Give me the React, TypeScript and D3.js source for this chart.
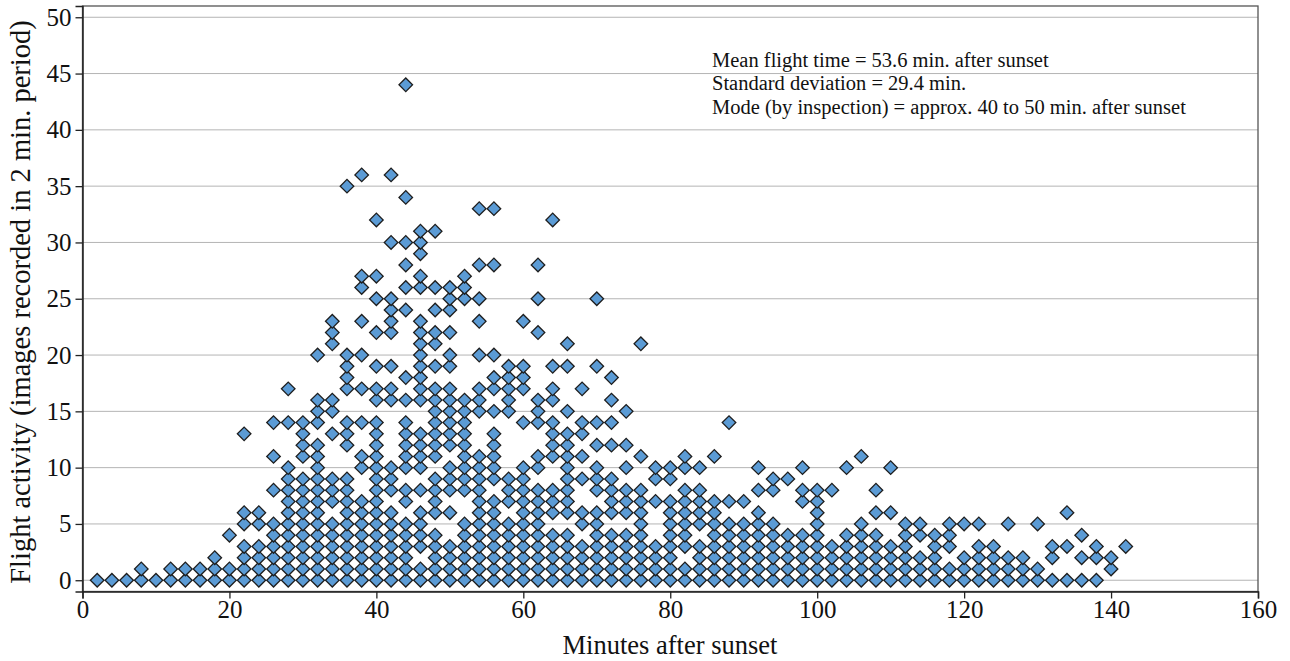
import React, { useRef, useEffect } from 'react';
import * as d3 from 'd3';

// minutes after sunset (2 min. periods)
const minutes = [
  2, 4, 6, 8, 10, 12, 14, 16, 18, 20, 22, 24, 26, 28, 30, 32, 34, 36, 38, 40, 42, 44, 46, 48,
  50, 52, 54, 56, 58, 60, 62, 64, 66, 68, 70, 72, 74, 76, 78, 80, 82, 84, 86, 88, 90, 92, 94,
  96, 98, 100, 102, 104, 106, 108, 110, 112, 114, 116, 118, 120, 122, 124, 126, 128, 130, 132,
  134, 136, 138, 140, 142,
];

// flight activity values recorded in each 2 min. period (one list per entry of `minutes`)
const activity = [
  [0], [0], [0], [0, 1], [0], [0, 1], [0, 1], [0, 1], [0, 1, 2], [0, 1, 4],
  [0, 1, 2, 3, 5, 6, 13],
  [0, 1, 2, 3, 5, 6],
  [0, 1, 2, 3, 4, 5, 8, 11, 14],
  [0, 1, 2, 3, 4, 5, 6, 7, 8, 9, 10, 14, 17],
  [0, 1, 2, 3, 4, 5, 6, 7, 8, 9, 11, 12, 13, 14],
  [0, 1, 2, 3, 4, 5, 6, 7, 8, 9, 10, 11, 12, 14, 15, 16, 20],
  [0, 1, 2, 3, 4, 5, 7, 8, 9, 13, 15, 16, 21, 22, 23],
  [0, 1, 2, 3, 4, 5, 6, 7, 8, 9, 12, 13, 14, 17, 18, 19, 20, 35],
  [0, 1, 2, 3, 4, 5, 6, 7, 10, 11, 14, 17, 20, 23, 26, 27, 36],
  [0, 1, 2, 3, 4, 5, 6, 7, 8, 9, 10, 11, 12, 13, 14, 16, 17, 19, 22, 25, 27, 32],
  [0, 1, 2, 3, 4, 5, 6, 8, 9, 10, 16, 17, 19, 22, 23, 24, 25, 30, 36],
  [0, 1, 2, 3, 4, 5, 7, 8, 10, 11, 12, 13, 14, 16, 18, 24, 26, 28, 30, 34, 44],
  [0, 1, 3, 4, 5, 6, 8, 10, 11, 12, 13, 16, 17, 18, 19, 20, 21, 22, 23, 26, 27, 29, 30, 31],
  [0, 1, 2, 3, 4, 6, 7, 8, 9, 11, 12, 13, 14, 15, 16, 17, 19, 21, 22, 24, 26, 31],
  [0, 1, 2, 3, 6, 8, 9, 10, 12, 13, 14, 15, 16, 17, 19, 20, 22, 24, 25, 26],
  [0, 1, 2, 3, 4, 5, 8, 9, 10, 11, 12, 13, 14, 15, 16, 25, 26, 27],
  [0, 1, 2, 3, 4, 5, 6, 7, 8, 9, 10, 11, 15, 16, 17, 20, 23, 25, 28, 33],
  [0, 1, 2, 3, 4, 5, 6, 7, 9, 10, 11, 12, 13, 15, 17, 18, 20, 28, 33],
  [0, 1, 2, 3, 4, 5, 7, 8, 9, 15, 16, 17, 18, 19],
  [0, 1, 2, 3, 4, 5, 6, 7, 8, 9, 10, 14, 17, 18, 19, 23],
  [0, 1, 2, 3, 4, 5, 6, 7, 8, 10, 11, 14, 15, 16, 22, 25, 28],
  [0, 1, 2, 3, 4, 6, 7, 8, 11, 12, 13, 14, 16, 17, 19, 32],
  [0, 1, 2, 3, 4, 6, 7, 8, 9, 10, 11, 12, 13, 15, 19, 21],
  [0, 1, 2, 3, 5, 6, 9, 11, 13, 14, 17],
  [0, 1, 2, 3, 4, 5, 6, 8, 9, 10, 12, 14, 19, 25],
  [0, 1, 2, 3, 4, 6, 7, 8, 9, 12, 14, 16, 18],
  [0, 1, 2, 3, 4, 6, 7, 8, 10, 12, 15],
  [0, 1, 2, 3, 4, 5, 6, 7, 8, 11, 21],
  [0, 1, 2, 3, 7, 9, 10],
  [0, 1, 2, 3, 4, 5, 6, 7, 9, 10],
  [0, 1, 3, 4, 5, 6, 7, 8, 10, 11],
  [0, 1, 2, 3, 5, 6, 7, 8, 10],
  [0, 1, 2, 3, 4, 5, 6, 7, 11],
  [0, 1, 2, 3, 4, 5, 7, 14],
  [0, 1, 2, 3, 4, 5, 7],
  [0, 1, 2, 3, 4, 5, 6, 8, 10],
  [0, 1, 2, 3, 4, 5, 8, 9],
  [0, 1, 2, 3, 4, 9],
  [0, 1, 2, 3, 4, 7, 8, 10],
  [0, 1, 2, 3, 4, 5, 6, 7, 8],
  [0, 1, 2, 3, 8],
  [0, 1, 2, 3, 4, 10],
  [0, 1, 2, 3, 4, 5, 11],
  [0, 1, 2, 3, 4, 6, 8],
  [0, 1, 2, 3, 6, 10],
  [0, 1, 2, 3, 4, 5],
  [0, 1, 2, 4, 5],
  [0, 1, 2, 3, 4],
  [0, 1, 3, 4, 5],
  [0, 1, 2, 5],
  [0, 1, 2, 3, 5],
  [0, 1, 2, 3],
  [0, 1, 2, 5],
  [0, 1, 2],
  [0, 1, 5],
  [0, 2, 3],
  [0, 3, 6],
  [0, 2, 4],
  [0, 2, 3],
  [1, 2],
  [3],
];

const xTicks = [0, 20, 40, 60, 80, 100, 120, 140, 160];
const yTicks = [0, 5, 10, 15, 20, 25, 30, 35, 40, 45, 50];

const notes = [
  'Mean flight time = 53.6 min. after sunset',
  'Standard deviation = 29.4 min.',
  'Mode (by inspection) = approx. 40 to 50 min. after sunset',
];

const W = 1290;
const H = 661;
const FONT = '"Liberation Serif", "Times New Roman", serif';

const App = () => {
  const svgRef = useRef(null);

  useEffect(() => {
    const svg = d3.select(svgRef.current);
    svg.selectAll('*').remove();

    const left = 82.5;
    const right = 1258;
    const top = 6;
    const bottom = 591.5;

    const x = d3.scaleLinear().domain([0, 160]).range([left, right]);
    const y = d3.scaleLinear().domain([-1, 51]).range([bottom, top]);

    // grid
    svg.append('g')
      .selectAll('line')
      .data(yTicks)
      .enter()
      .append('line')
      .attr('x1', left)
      .attr('x2', right)
      .attr('y1', (d) => y(d))
      .attr('y2', (d) => y(d))
      .attr('stroke', '#b4b4b4')
      .attr('stroke-width', 1);

    // frame
    svg.append('rect')
      .attr('x', left)
      .attr('y', top)
      .attr('width', right - left)
      .attr('height', bottom - top)
      .attr('fill', 'none')
      .attr('stroke', '#555')
      .attr('stroke-width', 1.3);

    // points
    const pts = minutes.flatMap((m, i) => activity[i].map((v) => ({ m, v })));
    const diamond = d3.symbol().type(d3.symbolSquare).size(92)();
    svg.append('g')
      .selectAll('path')
      .data(pts)
      .enter()
      .append('path')
      .attr('d', diamond)
      .attr('transform', (d) => `translate(${x(d.m)},${y(d.v)}) rotate(45)`)
      .attr('fill', '#5b9bd5')
      .attr('stroke', '#1e1e1e')
      .attr('stroke-width', 1.3);

    // x axis
    const gx = svg.append('g')
      .attr('transform', `translate(0, ${bottom})`)
      .call(d3.axisBottom(x).tickValues(xTicks).tickSize(7).tickPadding(2).tickFormat(d3.format('d')));
    gx.select('.domain').attr('stroke', '#222').attr('stroke-width', 1.5);
    gx.selectAll('.tick line').attr('stroke', '#222').attr('stroke-width', 1.3);
    gx.selectAll('text').attr('fill', '#111').style('font-family', FONT).style('font-size', '25px');

    // y axis
    const gy = svg.append('g')
      .attr('transform', `translate(${left}, 0)`)
      .call(d3.axisLeft(y).tickValues(yTicks).tickSize(7).tickPadding(4).tickFormat(d3.format('d')));
    gy.select('.domain').attr('stroke', '#222').attr('stroke-width', 1.5);
    gy.selectAll('.tick line').attr('stroke', '#222').attr('stroke-width', 1.3);
    gy.selectAll('text').attr('fill', '#111').style('font-family', FONT).style('font-size', '25px');

    // axis titles
    svg.append('text')
      .attr('x', 670)
      .attr('y', 654)
      .attr('text-anchor', 'middle')
      .attr('fill', '#111')
      .style('font-family', FONT)
      .style('font-size', '26.5px')
      .text('Minutes after sunset');

    svg.append('text')
      .attr('transform', 'rotate(-90)')
      .attr('x', -302)
      .attr('y', 30)
      .attr('text-anchor', 'middle')
      .attr('fill', '#111')
      .style('font-family', FONT)
      .style('font-size', '28.5px')
      .text('Flight activity (images recorded in 2 min. period)');

    // summary notes
    svg.append('g')
      .selectAll('text')
      .data(notes)
      .enter()
      .append('text')
      .attr('x', 712)
      .attr('y', (d, i) => 66.5 + i * 23.5)
      .attr('fill', '#111')
      .style('font-family', FONT)
      .style('font-size', '20.5px')
      .text((d) => d);
  }, []);

  return (
    <svg
      ref={svgRef}
      width={W}
      height={H}
      style={{ position: 'absolute', left: 0, top: 0, background: '#fff' }}
    />
  );
};

export default App;
